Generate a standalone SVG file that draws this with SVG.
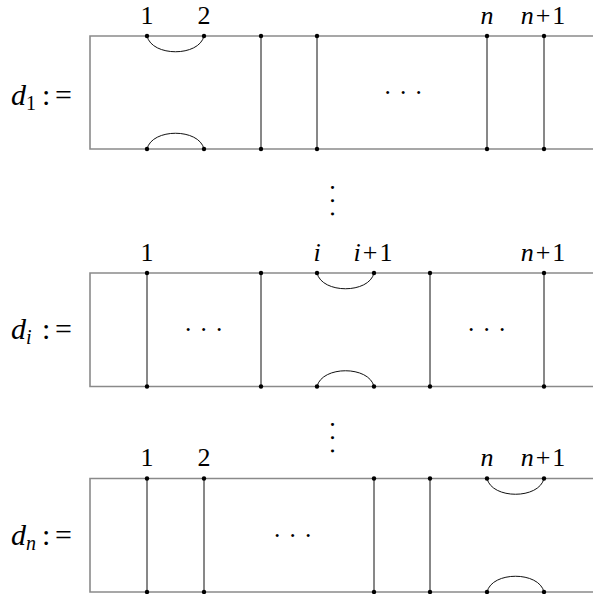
<svg xmlns="http://www.w3.org/2000/svg" width="593" height="594" viewBox="0 0 593 594" font-family="Liberation Serif, DejaVu Serif, serif">
<style>
text{font-family:"Liberation Serif","DejaVu Serif",serif;fill:#000}
.lbl{font-size:26px;text-anchor:middle}
.dl{font-size:30px}
.it{font-style:italic}
.box{fill:none;stroke:#8a8a8a;stroke-width:1.6}
.str{fill:none;stroke:#111;stroke-width:1}
.dot{fill:#000}
.ell{font-size:25px;letter-spacing:7.2px}
.vell{font-size:25px;letter-spacing:5px}
</style>
<defs>
<circle id="pt" r="2.2" class="dot"/>
</defs>

<g id="d1">
<path class="box" d="M593,36 H90 V149 H593"/>
<text class="dl" x="11" y="105"><tspan class="it">d</tspan><tspan font-size="20" dy="5">1</tspan><tspan dy="-5" x="42">:</tspan><tspan x="55">=</tspan></text>
<text class="lbl" x="147" y="24">1</text>
<text class="lbl" x="204" y="24">2</text>
<text class="lbl it" x="487" y="24">n</text>
<text class="lbl" x="543" y="24"><tspan class="it">n</tspan><tspan dx="2">+</tspan><tspan dx="2">1</tspan></text>
<text class="ell" x="383.5" y="101">···</text>
</g>

<g id="vdots1">
<text class="vell" transform="translate(333,197.5) rotate(90)" x="-14.3" y="9">···</text>
</g>

<g id="di">
<path class="box" d="M593,273 H90 V386.5 H593"/>
<text class="dl" x="11" y="338.5"><tspan class="it">d</tspan><tspan class="it" font-size="20" dy="5">i</tspan><tspan dy="-5" x="42">:</tspan><tspan x="55">=</tspan></text>
<text class="lbl" x="147" y="261">1</text>
<text class="lbl it" x="317" y="261">i</text>
<text class="lbl" x="373" y="261"><tspan class="it">i</tspan><tspan dx="2">+</tspan><tspan dx="2">1</tspan></text>
<text class="lbl" x="543" y="261"><tspan class="it">n</tspan><tspan dx="2">+</tspan><tspan dx="2">1</tspan></text>
<text class="ell" x="184" y="338">···</text>
<text class="ell" x="467" y="338">···</text>
</g>

<g id="vdots2">
<text class="vell" transform="translate(333,434.5) rotate(90)" x="-14.3" y="9">···</text>
</g>

<g id="dn">
<path class="box" d="M593,478.5 H90 V592 H593"/>
<text class="dl" x="11" y="544.5"><tspan class="it">d</tspan><tspan class="it" font-size="20" dy="5">n</tspan><tspan dy="-5" x="42">:</tspan><tspan x="55">=</tspan></text>
<text class="lbl" x="147" y="466">1</text>
<text class="lbl" x="204" y="466">2</text>
<text class="lbl it" x="487" y="466">n</text>
<text class="lbl" x="543" y="466"><tspan class="it">n</tspan><tspan dx="2">+</tspan><tspan dx="2">1</tspan></text>
<text class="ell" x="273" y="544">···</text>
</g>

<g id="connectors">
<path class="str" d="M147,36 C152,57 199,57 204,36"/>
<path class="str" d="M147,149 C152,128 199,128 204,149"/>
<path class="str" d="M261,36 V149 M317,36 V149 M487,36 V149 M544,36 V149"/>
<path class="str" d="M317,273 C322,294 369,294 374,273"/>
<path class="str" d="M317,386.5 C322,365.5 369,365.5 374,386.5"/>
<path class="str" d="M147,273 V386.5 M261,273 V386.5 M430,273 V386.5 M544,273 V386.5"/>
<path class="str" d="M487,478.5 C492,499.5 539,499.5 544,478.5"/>
<path class="str" d="M487,592 C492,571 539,571 544,592"/>
<path class="str" d="M147,478.5 V592 M204,478.5 V592 M374,478.5 V592 M430,478.5 V592"/>
</g>

<g id="points">
<use href="#pt" x="147" y="36"/><use href="#pt" x="204" y="36"/><use href="#pt" x="261" y="36"/><use href="#pt" x="317" y="36"/><use href="#pt" x="487" y="36"/><use href="#pt" x="544" y="36"/>
<use href="#pt" x="147" y="149"/><use href="#pt" x="204" y="149"/><use href="#pt" x="261" y="149"/><use href="#pt" x="317" y="149"/><use href="#pt" x="487" y="149"/><use href="#pt" x="544" y="149"/>
<use href="#pt" x="147" y="273"/><use href="#pt" x="261" y="273"/><use href="#pt" x="317" y="273"/><use href="#pt" x="374" y="273"/><use href="#pt" x="430" y="273"/><use href="#pt" x="544" y="273"/>
<use href="#pt" x="147" y="386.5"/><use href="#pt" x="261" y="386.5"/><use href="#pt" x="317" y="386.5"/><use href="#pt" x="374" y="386.5"/><use href="#pt" x="430" y="386.5"/><use href="#pt" x="544" y="386.5"/>
<use href="#pt" x="147" y="478.5"/><use href="#pt" x="204" y="478.5"/><use href="#pt" x="374" y="478.5"/><use href="#pt" x="430" y="478.5"/><use href="#pt" x="487" y="478.5"/><use href="#pt" x="544" y="478.5"/>
<use href="#pt" x="147" y="592"/><use href="#pt" x="204" y="592"/><use href="#pt" x="374" y="592"/><use href="#pt" x="430" y="592"/><use href="#pt" x="487" y="592"/><use href="#pt" x="544" y="592"/>
</g>
</svg>
